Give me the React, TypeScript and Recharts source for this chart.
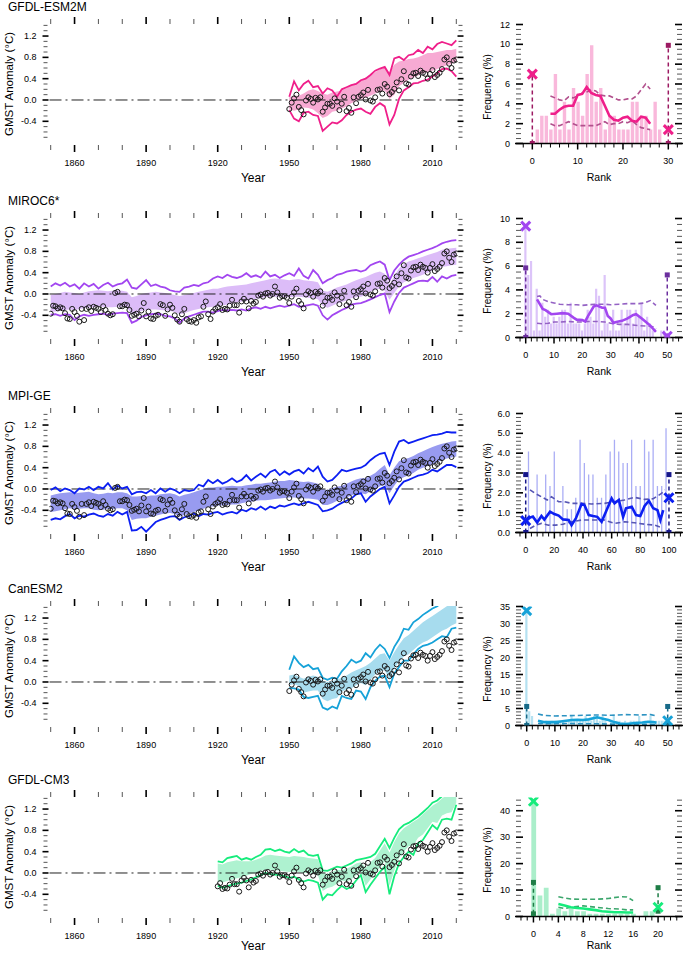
import React from "react";
import {
  ComposedChart,
  Area,
  Line,
  Scatter,
  Bar,
  XAxis,
  YAxis,
  ReferenceLine,
} from "recharts";

const FONT = '"Liberation Sans", Arial, Helvetica, sans-serif';

function seq(start: number, end: number, step: number) {
  const n = Math.round((end - start) / step);
  return Array.from({ length: n + 1 }, (_, i) => Math.round((start + i * step) * 1000) / 1000);
}

// ---- observations (GMST anomaly, annual) ----
const OBS_YEARS = seq(1850, 2020, 1);
const OBS_GMST = [
  -0.37, -0.22, -0.23, -0.27, -0.25, -0.27, -0.36, -0.46, -0.47, -0.28,
  -0.34, -0.41, -0.52, -0.28, -0.49, -0.28, -0.25, -0.32, -0.24, -0.26,
  -0.28, -0.34, -0.23, -0.30, -0.37, -0.40, -0.38, 0.02, 0.04, -0.23,
  -0.23, -0.20, -0.21, -0.30, -0.41, -0.39, -0.37, -0.42, -0.31, -0.17,
  -0.42, -0.33, -0.46, -0.47, -0.41, -0.39, -0.19, -0.21, -0.41, -0.29,
  -0.20, -0.26, -0.40, -0.48, -0.52, -0.38, -0.28, -0.47, -0.51, -0.52,
  -0.49, -0.54, -0.44, -0.42, -0.24, -0.14, -0.38, -0.47, -0.33, -0.28,
  -0.25, -0.19, -0.30, -0.28, -0.29, -0.22, -0.11, -0.21, -0.21, -0.35,
  -0.14, -0.09, -0.14, -0.27, -0.13, -0.18, -0.15, -0.03, -0.01, -0.05,
  0.01, 0.02, -0.03, 0.00, 0.14, 0.03, -0.07, -0.04, -0.04, -0.07,
  -0.17, -0.05, 0.03, 0.10, -0.13, -0.19, -0.27, -0.01, 0.05, 0.02,
  -0.05, 0.04, 0.01, 0.05, -0.22, -0.14, -0.07, -0.07, -0.11, 0.03,
  -0.03, -0.19, -0.07, 0.06, -0.21, -0.15, -0.24, 0.05, -0.06, 0.06,
  0.09, 0.14, 0.01, 0.19, -0.01, -0.03, 0.05, 0.19, 0.20, 0.12,
  0.30, 0.25, 0.11, 0.15, 0.21, 0.33, 0.18, 0.39, 0.54, 0.31,
  0.29, 0.44, 0.50, 0.51, 0.45, 0.55, 0.51, 0.49, 0.40, 0.49,
  0.56, 0.43, 0.47, 0.51, 0.58, 0.76, 0.80, 0.68, 0.60, 0.74,
  0.76,
];

// ---- GFDL-ESM2M ensemble (every 2 years, 1950-2020) ----
const esm2mYears = seq(1950, 2020, 2);
const esm2mHi = [
  0.06, 0.35, 0.18, 0.30, 0.36, 0.24, 0.26, 0.12, 0.22, 0.18,
  0.06, 0.20, 0.24, 0.28, 0.30, 0.37, 0.40, 0.47, 0.55, 0.59,
  0.62, 0.47, 0.78, 0.81, 0.75, 0.84, 0.86, 0.94, 0.88, 1.00,
  0.95, 1.05, 1.09, 1.06, 1.03, 1.12,
];
const esm2mLo = [
  -0.19, -0.35, -0.40, -0.24, -0.22, -0.28, -0.30, -0.58, -0.50, -0.42,
  -0.44, -0.38, -0.28, -0.22, -0.18, -0.16, -0.22, -0.26, -0.13, -0.06,
  -0.12, -0.46, -0.28, 0.02, 0.18, 0.24, 0.31, 0.32, 0.36, 0.38,
  0.44, 0.50, 0.58, 0.59, 0.54, 0.44,
];
const esm2mBandHi = [
  0.05, 0.08, 0.08, 0.12, 0.18, 0.20, 0.17, 0.12, 0.10, 0.14,
  0.16, 0.18, 0.22, 0.28, 0.32, 0.36, 0.42, 0.46, 0.52, 0.58,
  0.62, 0.52, 0.66, 0.72, 0.74, 0.77, 0.78, 0.80, 0.84, 0.88,
  0.88, 0.90, 0.92, 0.94, 0.94, 0.96,
];
const esm2mBandLo = [
  -0.18, -0.20, -0.18, -0.14, -0.15, -0.18, -0.25, -0.34, -0.30, -0.22,
  -0.20, -0.16, -0.12, -0.06, -0.02, 0.02, 0.04, 0.08, 0.12, 0.16,
  0.18, 0.02, 0.10, 0.26, 0.32, 0.38, 0.42, 0.46, 0.50, 0.52,
  0.55, 0.58, 0.62, 0.65, 0.68, 0.72,
];

// ---- MIROC6 (every 2 years, 1850-2020) ----
const longYears = seq(1850, 2020, 2);
const mirocHi = [
  0.14, 0.20, 0.16, 0.21, 0.14, 0.18, 0.10, 0.20, 0.14, 0.19,
  0.10, 0.17, 0.21, 0.14, 0.18, 0.20, 0.27, 0.12, 0.10, 0.18,
  0.26, 0.15, 0.18, 0.14, 0.12, 0.07, 0.05, 0.04, 0.12, 0.14,
  0.17, 0.15, 0.20, 0.22, 0.29, 0.33, 0.30, 0.36, 0.32, 0.30,
  0.33, 0.39, 0.32, 0.35, 0.31, 0.42, 0.33, 0.36, 0.30, 0.35,
  0.39, 0.34, 0.48, 0.34, 0.29, 0.45, 0.36, 0.20, 0.26, 0.30,
  0.36, 0.38, 0.42, 0.44, 0.45, 0.42, 0.45, 0.54, 0.58, 0.61,
  0.55, 0.26, 0.44, 0.55, 0.64, 0.70, 0.73, 0.76, 0.80, 0.83,
  0.86, 0.90, 0.95, 0.98, 1.00, 1.01,
];
const mirocLo = [
  -0.39, -0.38, -0.41, -0.38, -0.39, -0.49, -0.42, -0.39, -0.41, -0.39,
  -0.38, -0.37, -0.39, -0.37, -0.36, -0.35, -0.36, -0.54, -0.50, -0.43,
  -0.40, -0.38, -0.37, -0.38, -0.41, -0.42, -0.46, -0.54, -0.46, -0.42,
  -0.39, -0.36, -0.33, -0.33, -0.35, -0.32, -0.30, -0.31, -0.30, -0.31,
  -0.29, -0.31, -0.27, -0.25, -0.28, -0.24, -0.27, -0.24, -0.22, -0.24,
  -0.22, -0.19, -0.24, -0.23, -0.21, -0.19, -0.22, -0.40, -0.48, -0.40,
  -0.35, -0.30, -0.26, -0.20, -0.18, -0.17, -0.14, -0.10, -0.06, -0.02,
  0.01, -0.34, -0.14, 0.02, 0.12, 0.16, 0.20, 0.24, 0.25, 0.24,
  0.32, 0.23, 0.33, 0.29, 0.34, 0.36,
];
const mirocBandHi = [
  -0.02, 0.00, 0.02, 0.04, 0.03, 0.02, 0.00, 0.03, 0.05, 0.06,
  0.07, 0.06, 0.05, 0.06, 0.07, 0.06, 0.04, -0.06, -0.04, 0.00,
  0.02, 0.03, 0.04, 0.03, 0.02, 0.00, -0.02, -0.04, -0.02, 0.00,
  0.02, 0.04, 0.06, 0.08, 0.10, 0.10, 0.12, 0.14, 0.15, 0.16,
  0.17, 0.18, 0.20, 0.22, 0.24, 0.26, 0.28, 0.29, 0.28, 0.27,
  0.26, 0.27, 0.28, 0.26, 0.25, 0.24, 0.22, 0.06, 0.04, 0.08,
  0.12, 0.15, 0.18, 0.22, 0.26, 0.29, 0.32, 0.36, 0.40, 0.42,
  0.38, 0.17, 0.34, 0.48, 0.56, 0.61, 0.64, 0.67, 0.70, 0.73,
  0.76, 0.79, 0.83, 0.85, 0.86, 0.87,
];
const mirocBandLo = [
  -0.34, -0.33, -0.32, -0.30, -0.29, -0.30, -0.28, -0.27, -0.26, -0.25,
  -0.24, -0.24, -0.25, -0.25, -0.24, -0.24, -0.26, -0.38, -0.36, -0.32,
  -0.30, -0.29, -0.29, -0.30, -0.31, -0.32, -0.34, -0.38, -0.36, -0.33,
  -0.30, -0.28, -0.26, -0.25, -0.24, -0.23, -0.21, -0.20, -0.18, -0.16,
  -0.14, -0.13, -0.11, -0.09, -0.08, -0.06, -0.05, -0.05, -0.05, -0.06,
  -0.06, -0.05, -0.05, -0.06, -0.07, -0.08, -0.10, -0.22, -0.26, -0.22,
  -0.18, -0.15, -0.12, -0.08, -0.06, -0.05, -0.02, 0.04, 0.08, 0.10,
  0.06, -0.11, 0.02, 0.14, 0.22, 0.26, 0.30, 0.33, 0.36, 0.40,
  0.44, 0.47, 0.51, 0.52, 0.54, 0.55,
];

// ---- MPI-GE (every 2 years, 1850-2020) ----
const mpiHi = [
  -0.02, 0.03, -0.04, 0.01, -0.02, -0.08, 0.01, -0.01, 0.04, -0.02,
  0.04, 0.01, 0.11, -0.01, 0.06, 0.01, 0.04, -0.10, -0.06, -0.05,
  -0.08, -0.02, -0.08, 0.01, -0.05, 0.01, -0.02, -0.08, -0.02, -0.04,
  -0.02, 0.08, 0.05, 0.17, 0.11, 0.17, 0.10, 0.14, 0.20, 0.13,
  0.17, 0.26, 0.16, 0.23, 0.29, 0.22, 0.32, 0.36, 0.26, 0.33,
  0.27, 0.33, 0.36, 0.29, 0.39, 0.33, 0.42, 0.23, 0.14, 0.17,
  0.26, 0.36, 0.33, 0.36, 0.38, 0.40, 0.45, 0.54, 0.61, 0.66,
  0.68, 0.45, 0.70, 0.89, 0.92, 0.86, 0.89, 0.92, 0.95, 0.98,
  1.01, 1.02, 1.04, 1.07, 1.06, 1.06,
];
const mpiLo = [
  -0.58, -0.55, -0.57, -0.51, -0.47, -0.55, -0.50, -0.52, -0.48, -0.46,
  -0.50, -0.52, -0.47, -0.50, -0.43, -0.48, -0.43, -0.78, -0.77, -0.71,
  -0.80, -0.71, -0.62, -0.58, -0.55, -0.52, -0.51, -0.58, -0.53, -0.51,
  -0.46, -0.51, -0.47, -0.48, -0.45, -0.43, -0.48, -0.45, -0.43, -0.46,
  -0.39, -0.42, -0.36, -0.39, -0.33, -0.39, -0.33, -0.36, -0.31, -0.33,
  -0.30, -0.27, -0.30, -0.27, -0.24, -0.27, -0.30, -0.42, -0.40, -0.37,
  -0.31, -0.26, -0.22, -0.18, -0.10, -0.08, -0.24, -0.14, -0.07, 0.00,
  0.04, -0.27, -0.12, 0.04, 0.14, 0.17, 0.21, 0.25, 0.27, 0.30,
  0.36, 0.33, 0.39, 0.45, 0.45, 0.41,
];
const mpiBandHi = [
  -0.12, -0.10, -0.08, -0.07, -0.06, -0.08, -0.07, -0.06, -0.05, -0.08,
  -0.10, -0.09, -0.07, -0.08, -0.06, -0.06, -0.08, -0.14, -0.14, -0.13,
  -0.14, -0.12, -0.12, -0.10, -0.09, -0.08, -0.10, -0.14, -0.11, -0.09,
  -0.06, -0.03, 0.00, 0.03, 0.03, 0.04, 0.04, 0.05, 0.06, 0.05,
  0.05, 0.07, 0.08, 0.10, 0.10, 0.11, 0.12, 0.14, 0.15, 0.15,
  0.17, 0.16, 0.14, 0.13, 0.14, 0.12, 0.10, 0.00, -0.02, 0.02,
  0.04, 0.06, 0.10, 0.14, 0.18, 0.20, 0.20, 0.25, 0.30, 0.38,
  0.45, 0.26, 0.40, 0.52, 0.56, 0.58, 0.62, 0.67, 0.71, 0.75,
  0.79, 0.82, 0.85, 0.87, 0.89, 0.90,
];
const mpiBandLo = [
  -0.43, -0.42, -0.40, -0.38, -0.36, -0.38, -0.37, -0.36, -0.36, -0.39,
  -0.40, -0.39, -0.37, -0.38, -0.36, -0.36, -0.40, -0.58, -0.56, -0.55,
  -0.55, -0.52, -0.50, -0.48, -0.46, -0.45, -0.47, -0.52, -0.49, -0.46,
  -0.43, -0.40, -0.37, -0.34, -0.33, -0.31, -0.31, -0.30, -0.29, -0.29,
  -0.27, -0.25, -0.24, -0.22, -0.21, -0.21, -0.20, -0.19, -0.18, -0.17,
  -0.16, -0.16, -0.17, -0.18, -0.18, -0.19, -0.20, -0.30, -0.30, -0.27,
  -0.22, -0.20, -0.16, -0.12, -0.09, -0.08, -0.10, -0.04, 0.00, 0.05,
  0.08, -0.08, 0.06, 0.18, 0.22, 0.26, 0.30, 0.36, 0.40, 0.43,
  0.46, 0.50, 0.54, 0.57, 0.59, 0.61,
];

// ---- CanESM2 (every 2 years, 1950-2020) ----
const canYears = seq(1950, 2020, 2);
const canHi = [
  0.23, 0.48, 0.36, 0.28, 0.32, 0.24, 0.26, 0.08, 0.04, 0.08,
  0.06, 0.20, 0.30, 0.42, 0.36, 0.40, 0.54, 0.46, 0.60, 0.70,
  0.62, 0.45, 0.66, 0.80, 1.00, 0.98, 1.12, 1.18, 1.26, 1.32,
  1.38, 1.42, 1.50, 1.56, 1.60, 1.65,
];
const canLo = [
  -0.11, -0.12, -0.14, -0.28, -0.30, -0.28, -0.26, -0.48, -0.52, -0.46,
  -0.50, -0.26, -0.30, -0.32, -0.16, -0.18, -0.32, -0.10, 0.02, 0.10,
  0.12, -0.10, 0.16, 0.28, 0.40, 0.40, 0.52, 0.62, 0.68, 0.70,
  0.74, 0.80, 0.86, 0.84, 1.00, 1.02,
];
const canBandHi = [
  0.12, 0.14, 0.10, 0.06, 0.10, 0.12, 0.10, 0.02, 0.00, 0.02,
  0.04, 0.08, 0.12, 0.18, 0.22, 0.26, 0.30, 0.36, 0.44, 0.52,
  0.54, 0.40, 0.56, 0.70, 0.82, 0.88, 0.96, 1.04, 1.12, 1.18,
  1.24, 1.30, 1.36, 1.42, 1.46, 1.50,
];
const canBandLo = [
  -0.06, -0.04, -0.08, -0.20, -0.18, -0.16, -0.16, -0.32, -0.36, -0.32,
  -0.30, -0.18, -0.14, -0.12, -0.06, -0.02, -0.06, 0.04, 0.14, 0.20,
  0.22, 0.04, 0.26, 0.38, 0.48, 0.52, 0.60, 0.68, 0.74, 0.78,
  0.84, 0.90, 0.96, 1.00, 1.06, 1.10,
];

// ---- GFDL-CM3 (every 2 years, 1920-2020) ----
const cm3Years = seq(1920, 2020, 2);
const cm3Hi = [
  0.22, 0.20, 0.28, 0.30, 0.32, 0.25, 0.28, 0.25, 0.30, 0.34,
  0.44, 0.45, 0.41, 0.44, 0.40, 0.38, 0.45, 0.39, 0.42, 0.34,
  0.32, 0.34, 0.05, 0.04, 0.08, 0.12, 0.10, 0.14, 0.18, 0.24,
  0.26, 0.28, 0.30, 0.36, 0.50, 0.64, 0.47, 0.66, 0.82, 0.90,
  0.94, 1.00, 1.06, 1.14, 1.22, 1.32, 1.36, 1.44, 1.48, 1.52,
  1.55,
];
const cm3Lo = [
  -0.24, -0.28, -0.25, -0.22, -0.20, -0.18, -0.15, -0.12, -0.08, -0.04,
  0.00, -0.02, -0.03, -0.04, -0.06, -0.09, -0.07, -0.12, -0.16, -0.13,
  -0.15, -0.18, -0.50, -0.40, -0.42, -0.32, -0.24, -0.30, -0.26, -0.14,
  -0.04, -0.36, -0.22, -0.10, 0.02, 0.12, -0.40, -0.06, 0.18, 0.30,
  0.40, 0.34, 0.56, 0.62, 0.76, 0.90, 0.82, 1.00, 1.02, 1.00,
  1.28,
];
const cm3BandHi = [
  0.18, 0.16, 0.20, 0.22, 0.24, 0.22, 0.22, 0.22, 0.25, 0.28,
  0.33, 0.34, 0.33, 0.32, 0.31, 0.30, 0.32, 0.31, 0.30, 0.28,
  0.27, 0.26, 0.00, -0.02, 0.02, 0.06, 0.05, 0.08, 0.12, 0.18,
  0.20, 0.10, 0.20, 0.28, 0.42, 0.56, 0.38, 0.58, 0.74, 0.84,
  0.90, 0.96, 1.02, 1.10, 1.18, 1.26, 1.32, 1.40, 1.46, 1.50,
  1.52,
];
const cm3BandLo = [
  -0.16, -0.18, -0.15, -0.12, -0.10, -0.08, -0.05, -0.02, 0.00, 0.04,
  0.06, 0.06, 0.05, 0.04, 0.03, 0.02, 0.03, 0.02, 0.00, 0.00,
  -0.02, -0.04, -0.34, -0.28, -0.26, -0.20, -0.14, -0.16, -0.12, -0.04,
  0.04, -0.24, -0.12, 0.00, 0.10, 0.22, -0.24, 0.04, 0.28, 0.40,
  0.50, 0.52, 0.66, 0.72, 0.84, 0.96, 0.94, 1.08, 1.12, 1.14,
  1.32,
];

// ---- rank histograms ----
const esm2mBarRanks = seq(1, 28, 1);
const esm2mBarFreq = [
  1.4, 2.8, 2.8, 1.4, 7.0, 1.4, 4.2, 1.4, 5.6, 4.2,
  2.8, 7.0, 9.9, 4.2, 5.6, 1.4, 2.8, 2.8, 1.4, 1.4,
  1.4, 4.2, 4.2, 2.8, 2.8, 1.4, 4.2, 1.4,
];
const esm2mLineRanks = seq(4, 26, 1);
const esm2mMid = [3.0, 3.0, 3.4, 3.7, 3.8, 3.8, 4.9, 5.0, 5.7, 5.1, 4.9, 4.8, 3.8, 2.8, 2.4, 2.3, 2.6, 2.7, 2.3, 2.2, 2.7, 2.6, 2.0];
const esm2mUp = [4.8, 4.6, 4.4, 4.3, 4.7, 4.6, 4.8, 5.1, 5.2, 5.4, 5.3, 4.9, 4.8, 4.8, 4.6, 4.4, 4.4, 4.5, 4.5, 4.8, 5.4, 6.0, 5.5];
const esm2mDn = [2.0, 1.8, 1.8, 2.0, 2.2, 2.0, 1.8, 1.8, 1.8, 1.8, 1.8, 2.0, 2.2, 1.9, 2.0, 2.0, 2.2, 2.1, 2.3, 1.9, 1.6, 1.5, 1.4];

const mirocBarRanks = seq(0, 50, 1);
const mirocBarFreq = [
  9.36, 5.26, 6.43, 0.58, 4.09, 0.58, 2.92, 1.75, 2.34, 1.17,
  1.75, 1.17, 1.75, 2.34, 2.34, 1.17, 2.92, 1.17, 1.17, 1.17,
  0.58, 1.17, 2.34, 1.75, 1.17, 4.09, 3.51, 0.58, 5.26, 1.17,
  0.58, 2.34, 0.58, 0.58, 2.34, 1.17, 2.34, 2.34, 1.17, 2.34,
  1.75, 2.92, 0.58, 1.75, 1.17, 0.58, 0, 0, 0.58, 0.58,
  0,
];
const mirocMidRanks = [4, 6, 7, 9, 11, 13, 15, 17, 18, 20, 21, 22, 24, 25, 27, 28, 29, 30, 31, 32, 34, 36, 38, 39, 41, 43, 44, 46];
const mirocMid = [3.2, 2.4, 2.3, 1.96, 2.0, 2.05, 2.0, 1.65, 1.5, 1.46, 1.35, 1.8, 2.6, 2.7, 2.5, 2.5, 1.8, 1.6, 1.23, 1.3, 1.4, 1.6, 1.9, 1.96, 1.6, 1.2, 1.0, 0.48];
const mirocUpRanks = [4, 5, 6, 8, 10, 12, 15, 18, 20, 22, 25, 28, 30, 33, 36, 40, 42, 44, 46];
const mirocUp = [3.45, 3.5, 3.2, 3.0, 2.9, 2.8, 2.75, 2.75, 2.7, 2.75, 2.8, 2.8, 2.75, 2.8, 2.85, 2.85, 2.9, 3.1, 2.7];
const mirocDnRanks = [4, 6, 8, 10, 12, 15, 18, 20, 22, 25, 28, 30, 33, 36, 40, 43, 45, 46];
const mirocDn = [1.2, 1.15, 1.2, 1.3, 1.3, 1.35, 1.3, 1.3, 1.35, 1.35, 1.3, 1.2, 1.1, 1.1, 1.0, 0.95, 0.9, 0.7];

const mpiBarRanks = seq(2, 98, 3);
const mpiBarFreq = [
  4.09, 0, 2.92, 0, 2.92, 2.34, 4.09, 0, 2.34, 1.17,
  1.17, 1.75, 4.68, 3.51, 2.92, 2.92, 1.75, 1.75, 2.92, 4.09,
  4.68, 4.09, 3.51, 3.51, 4.68, 2.34, 2.34, 4.68, 4.09, 4.68,
  2.34, 2.34, 5.26,
];
const mpiMidRanks = [1, 3, 5, 8, 11, 13, 17, 20, 23, 26, 30, 32, 35, 39, 41, 44, 47, 50, 53, 56, 60, 62, 65, 68, 70, 74, 77, 80, 83, 86, 89, 92, 94, 96];
const mpiMid = [0.65, 0.75, 0.8, 0.5, 0.83, 0.65, 1.05, 0.93, 0.85, 0.66, 0.63, 0.37, 0.71, 1.44, 1.39, 0.88, 0.83, 0.79, 0.54, 1.05, 1.72, 1.47, 1.64, 0.79, 1.22, 1.3, 0.88, 0.83, 1.34, 1.6, 1.22, 1.13, 0.63, 1.13];
const mpiUpRanks = [3, 6, 11, 15, 18, 23, 27, 32, 39, 46, 55, 62, 69, 76, 83, 89, 95, 97];
const mpiUp = [2.15, 2.0, 1.8, 1.64, 1.8, 1.55, 1.55, 1.47, 1.47, 1.44, 1.47, 1.55, 1.64, 1.77, 1.67, 1.7, 1.98, 2.15];
const mpiDnRanks = [3, 7, 11, 16, 21, 26, 32, 39, 48, 55, 62, 69, 76, 83, 90, 95];
const mpiDn = [0.2, 0.37, 0.46, 0.37, 0.37, 0.42, 0.54, 0.63, 0.63, 0.63, 0.46, 0.54, 0.49, 0.42, 0.37, 0.25];

const canBarRanks = seq(0, 50, 1);
const canBarFreq = [
  33.8, 4.2, 2.8, 0, 0, 1.4, 0, 1.4, 0, 1.4,
  1.4, 0, 1.4, 1.4, 0, 1.4, 2.8, 1.4, 1.4, 1.4,
  1.4, 2.8, 1.4, 1.4, 2.8, 2.8, 1.4, 2.8, 1.4, 0,
  1.4, 2.8, 1.4, 1.4, 0, 1.4, 0, 1.4, 1.4, 0,
  2.8, 0, 1.4, 0, 2.8, 0, 1.4, 1.4, 1.4, 1.4,
  0,
];
const canMidRanks = [4, 6, 8, 10, 12, 14, 16, 18, 20, 22, 24, 25, 27, 29, 31, 33, 35, 37, 39, 41, 43, 45, 46];
const canMid = [1.4, 1.0, 1.0, 1.0, 1.2, 1.4, 1.6, 1.7, 1.6, 1.8, 2.2, 2.4, 2.0, 1.6, 1.0, 0.6, 0.4, 0.6, 0.8, 0.9, 1.1, 1.0, 0.8];
const canUpRanks = [4, 6, 10, 15, 20, 25, 30, 35, 40, 44, 46];
const canUp = [3.4, 3.0, 2.8, 2.9, 3.0, 3.1, 3.0, 3.2, 3.1, 3.2, 2.8];
const canDnRanks = [4, 10, 15, 20, 25, 30, 35, 40, 46];
const canDn = [0.6, 0.5, 0.6, 0.5, 0.5, 0.4, 0.4, 0.4, 0.3];

const cm3BarRanks = seq(0, 20, 1);
const cm3BarFreq = [
  43.6, 7.9, 10.9, 1.0, 3.0, 2.0, 3.0, 2.0, 2.0, 1.0,
  1.0, 1.0, 1.0, 1.0, 1.0, 1.0, 1.0, 0, 2.0, 2.0,
  0,
];
const cm3LineRanks = seq(4, 16, 1);
const cm3Mid = [4.7, 4.2, 3.5, 3.2, 3.0, 2.7, 2.4, 2.0, 1.8, 1.6, 1.6, 1.5, 1.5];
const cm3UpRanks = [4, 5, 6, 8, 10, 12, 14, 15, 16];
const cm3Up = [7.5, 7.0, 6.6, 6.5, 6.5, 6.8, 7.5, 7.4, 6.0];
const cm3Dn = [3.5, 3.0, 3.5, 4.0, 3.5, 3.0, 2.8, 2.5, 2.5];

// ---- axes ----
const YEAR_TICKS = seq(1850, 2020, 10);
const YEAR_MAJOR = [1860, 1890, 1920, 1950, 1980, 2010];
const ANOM_TICKS = seq(-0.7, 1.4, 0.1);
const ANOM_MAJOR = [-0.4, 0, 0.4, 0.8, 1.2];

// axes take 1px each (a zero-size axis is not drawn), so margins are 1px short
const TS_MARGIN = { top: 24, right: 12.5, bottom: 45, left: 48.5 };
const TS_FRAME_W = 408;
const TS_FRAME_H = 120;
const RK_MARGIN = { top: 24.5, right: 2, bottom: 45.5, left: 44 };
const RK_FRAME_W = 168;

const ROW_TOPS = [0, 194, 389, 582, 773];

const isIn = (list: number[], v: number) => list.some((m) => Math.abs(m - v) < 1e-6);

interface Rank {
  n: number;
  xDomain: [number, number];
  xTicks: number[];
  xMajor: number[];
  yMax: number;
  yTicks: number[];
  yMajor: number[];
  yFmt: (v: number) => string;
  barW: number;
  bars: { r: number; f: number }[];
  mid: { r: number; f: number }[];
  up: { r: number; f: number }[];
  dn: { r: number; f: number }[];
  end0: [number, number];
  endN: [number, number];
  cross: [number, number];
}

interface Model {
  name: string;
  color: string;
  band: string;
  bar: string;
  dash: string;
  square: string;
  years: number[];
  hi: number[];
  lo: number[];
  bandHi: number[];
  bandLo: number[];
  obsFrom: number;
  rank: Rank;
}

const pts = (rs: number[], fs: number[]) => rs.map((r, i) => ({ r, f: fs[i] }));
const intFmt = (v: number) => String(v);

const MODELS: Model[] = [
  {
    name: "GFDL-ESM2M",
    color: "#ef1f8a",
    band: "#f7aad3",
    bar: "#f9b8db",
    dash: "#b2508d",
    square: "#9c1a62",
    years: esm2mYears,
    hi: esm2mHi,
    lo: esm2mLo,
    bandHi: esm2mBandHi,
    bandLo: esm2mBandLo,
    obsFrom: 1950,
    rank: {
      n: 30,
      xDomain: [-3.82, 33.24],
      xTicks: seq(-2, 32, 2),
      xMajor: [0, 10, 20, 30],
      yMax: 12,
      yTicks: seq(0, 12, 0.5),
      yMajor: [0, 2, 4, 6, 8, 10, 12],
      yFmt: intFmt,
      barW: 3.4,
      bars: pts(esm2mBarRanks, esm2mBarFreq),
      mid: pts(esm2mLineRanks, esm2mMid),
      up: pts(esm2mLineRanks, esm2mUp),
      dn: pts(esm2mLineRanks, esm2mDn),
      end0: [0, 7.0],
      endN: [0, 9.9],
      cross: [7.0, 1.4],
    },
  },
  {
    name: "MIROC6*",
    color: "#a246f0",
    band: "#dcbcf8",
    bar: "#dcc4f9",
    dash: "#9462c4",
    square: "#6b2e9e",
    years: longYears,
    hi: mirocHi,
    lo: mirocLo,
    bandHi: mirocBandHi,
    bandLo: mirocBandLo,
    obsFrom: 1850,
    rank: {
      n: 50,
      xDomain: [-3.78, 55.56],
      xTicks: seq(-2, 54, 2),
      xMajor: [0, 10, 20, 30, 40, 50],
      yMax: 10,
      yTicks: seq(0, 10, 0.5),
      yMajor: [0, 2, 4, 6, 8, 10],
      yFmt: intFmt,
      barW: 2.2,
      bars: pts(mirocBarRanks, mirocBarFreq),
      mid: pts(mirocMidRanks, mirocMid),
      up: pts(mirocUpRanks, mirocUp),
      dn: pts(mirocDnRanks, mirocDn),
      end0: [0, 5.85],
      endN: [0, 5.26],
      cross: [9.36, 0.1],
    },
  },
  {
    name: "MPI-GE",
    color: "#0c1ff2",
    band: "#989bf0",
    bar: "#aaadf5",
    dash: "#5656b4",
    square: "#16168a",
    years: longYears,
    hi: mpiHi,
    lo: mpiLo,
    bandHi: mpiBandHi,
    bandLo: mpiBandLo,
    obsFrom: 1850,
    rank: {
      n: 100,
      xDomain: [-7.47, 109.8],
      xTicks: seq(-4, 108, 4),
      xMajor: [0, 20, 40, 60, 80, 100],
      yMax: 6,
      yTicks: seq(0, 6, 0.2),
      yMajor: [0, 1, 2, 3, 4, 5, 6],
      yFmt: (v: number) => v.toFixed(1),
      barW: 2,
      bars: pts(mpiBarRanks, mpiBarFreq),
      mid: pts(mpiMidRanks, mpiMid),
      up: pts(mpiUpRanks, mpiUp),
      dn: pts(mpiDnRanks, mpiDn),
      end0: [0, 2.92],
      endN: [0, 2.92],
      cross: [0.6, 1.75],
    },
  },
  {
    name: "CanESM2",
    color: "#16a2d8",
    band: "#a7dcee",
    bar: "#b4e1f1",
    dash: "#2d93c2",
    square: "#176a88",
    years: canYears,
    hi: canHi,
    lo: canLo,
    bandHi: canBandHi,
    bandLo: canBandLo,
    obsFrom: 1950,
    rank: {
      n: 50,
      xDomain: [-4.15, 55.43],
      xTicks: seq(-2, 54, 2),
      xMajor: [0, 10, 20, 30, 40, 50],
      yMax: 35,
      yTicks: seq(0, 35, 1),
      yMajor: [0, 5, 10, 15, 20, 25, 30, 35],
      yFmt: intFmt,
      barW: 2.2,
      bars: pts(canBarRanks, canBarFreq),
      mid: pts(canMidRanks, canMid),
      up: pts(canUpRanks, canUp),
      dn: pts(canDnRanks, canDn),
      end0: [0, 5.6],
      endN: [0, 5.6],
      cross: [33.8, 1.4],
    },
  },
  {
    name: "GFDL-CM3",
    color: "#16ec7c",
    band: "#aef2d0",
    bar: "#aaeeca",
    dash: "#3ba66c",
    square: "#1e7d46",
    years: cm3Years,
    hi: cm3Hi,
    lo: cm3Lo,
    bandHi: cm3BandHi,
    bandLo: cm3BandLo,
    obsFrom: 1920,
    rank: {
      n: 20,
      xDomain: [-2.96, 24.0],
      xTicks: seq(-2, 23, 1),
      xMajor: [0, 4, 8, 12, 16, 20],
      yMax: 45,
      yTicks: seq(0, 44, 2),
      yMajor: [0, 10, 20, 30, 40],
      yFmt: intFmt,
      barW: 4.8,
      bars: pts(cm3BarRanks, cm3BarFreq),
      mid: pts(cm3LineRanks, cm3Mid),
      up: pts(cm3UpRanks, cm3Up),
      dn: pts(cm3UpRanks, cm3Dn),
      end0: [1.0, 12.9],
      endN: [2.0, 10.9],
      cross: [43.6, 3.5],
    },
  },
];

// ---- tick renderers ----
const yearTick = (props: any) => {
  const { x, y, payload } = props;
  const v = payload.value;
  const major = isIn(YEAR_MAJOR, v);
  const len = major ? 7 : 5;
  const stroke = major ? "#000" : "#555";
  const w = major ? 1.6 : 1;
  const top = y - TS_FRAME_H;
  return (
    <g>
      <line x1={x} x2={x} y1={y + 1} y2={y + 1 + len} stroke={stroke} strokeWidth={w} />
      <line x1={x} x2={x} y1={top} y2={top - len} stroke={stroke} strokeWidth={w} />
      {major && (
        <text x={x} y={y + 19} textAnchor="middle" dominantBaseline="central" fontSize={9} fontFamily={FONT} fill="#000">
          {v}
        </text>
      )}
    </g>
  );
};

const anomTick = (props: any) => {
  const { x, y, payload } = props;
  const v = payload.value;
  const major = isIn(ANOM_MAJOR, v);
  const stroke = major ? "#000" : "#555";
  const w = major ? 1.6 : 1;
  const right = x + TS_FRAME_W;
  return (
    <g>
      <line x1={major ? x - 7 : x - 6} x2={major ? x - 1 : x - 2} y1={y} y2={y} stroke={stroke} strokeWidth={w} />
      <line x1={major ? right : right + 1} x2={major ? right + 6 : right + 5} y1={y} y2={y} stroke={stroke} strokeWidth={w} />
      {major && (
        <text x={x - 13} y={y} textAnchor="end" dominantBaseline="central" fontSize={9} fontFamily={FONT} fill="#000">
          {Math.abs(v) < 1e-6 ? "0.0" : v.toFixed(1)}
        </text>
      )}
    </g>
  );
};

const obsDot = (props: any) => {
  const { cx, cy } = props;
  if (cx == null || cy == null) return <g />;
  return <circle cx={cx} cy={cy} r={2.5} fill="none" stroke="#1a1a1a" strokeWidth={1} />;
};

function TimePanel({ m }: { m: Model }) {
  const data = m.years.map((year, i) => ({
    year,
    hi: m.hi[i],
    lo: m.lo[i],
    band: [m.bandLo[i], m.bandHi[i]],
  }));
  const obs = OBS_YEARS.map((year, i) => ({ year, v: OBS_GMST[i] })).filter((d) => d.year >= m.obsFrom);
  return (
    <ComposedChart width={470} height={190} data={data} margin={TS_MARGIN}>
      <XAxis
        dataKey="year"
        type="number"
        domain={[1849.5, 2020.5]}
        allowDataOverflow
        ticks={YEAR_TICKS}
        interval={0}
        height={1}
        tickSize={0}
        tickMargin={0}
        axisLine={false}
        tickLine={false}
        tick={yearTick}
      />
      <YAxis
        type="number"
        domain={[-0.826, 1.426]}
        allowDataOverflow
        ticks={ANOM_TICKS}
        interval={0}
        width={1}
        tickSize={0}
        tickMargin={0}
        axisLine={false}
        tickLine={false}
        tick={anomTick}
      />
      <Area type="linear" dataKey="band" stroke="none" fill={m.band} fillOpacity={1} isAnimationActive={false} />
      <ReferenceLine y={0} stroke="#222" strokeWidth={1} strokeDasharray="12 4 2 4" />
      <Line type="linear" dataKey="hi" stroke={m.color} strokeWidth={1.8} dot={false} isAnimationActive={false} />
      <Line type="linear" dataKey="lo" stroke={m.color} strokeWidth={1.8} dot={false} isAnimationActive={false} />
      <Scatter data={obs} dataKey="v" shape={obsDot} isAnimationActive={false} />
    </ComposedChart>
  );
}

function RankPanel({ m }: { m: Model }) {
  const rk = m.rank;
  const xTick = (props: any) => {
    const { x, y, payload } = props;
    const v = payload.value;
    const major = isIn(rk.xMajor, v);
    return (
      <g>
        <line x1={x} x2={x} y1={y} y2={y + (major ? 6 : 4)} stroke="#000" strokeWidth={major ? 1.5 : 1} />
        {major && (
          <text x={x} y={y + 17} textAnchor="middle" dominantBaseline="central" fontSize={9} fontFamily={FONT} fill="#000">
            {v}
          </text>
        )}
      </g>
    );
  };
  const yTick = (props: any) => {
    const { x, y, payload } = props;
    const v = payload.value;
    const major = isIn(rk.yMajor, v);
    const len = major ? 7 : 5;
    const stroke = major ? "#000" : "#555";
    const w = major ? 1.6 : 1;
    const right = x + RK_FRAME_W;
    return (
      <g>
        <line x1={x + 1} x2={x + 1 + len} y1={y} y2={y} stroke={stroke} strokeWidth={w} />
        <line x1={right - 1} x2={right - 1 - len} y1={y} y2={y} stroke={stroke} strokeWidth={w} />
        {major && (
          <text x={x - 5} y={y} textAnchor="end" dominantBaseline="central" fontSize={9} fontFamily={FONT} fill="#000">
            {rk.yFmt(v)}
          </text>
        )}
      </g>
    );
  };
  const square = (props: any) => {
    const { cx, cy } = props;
    if (cx == null || cy == null) return <g />;
    return <rect x={cx - 2.5} y={cy - 2.5} width={5} height={5} fill={m.square} />;
  };
  const xmark = (props: any) => {
    const { cx, cy } = props;
    if (cx == null || cy == null) return <g />;
    const s = 4.5;
    return (
      <g stroke={m.color} strokeWidth={3} strokeLinecap="butt">
        <line x1={cx - s} y1={cy - s} x2={cx + s} y2={cy + s} />
        <line x1={cx - s} y1={cy + s} x2={cx + s} y2={cy - s} />
      </g>
    );
  };
  const end0 = [{ r: 0, f: rk.end0[0] }, { r: 0, f: rk.end0[1] }];
  const endN = [{ r: rk.n, f: rk.endN[0] }, { r: rk.n, f: rk.endN[1] }];
  const crosses = [{ r: 0, f: rk.cross[0] }, { r: rk.n, f: rk.cross[1] }];
  const endLine = { stroke: m.square, strokeWidth: 1.5, strokeDasharray: "4 3" };
  return (
    <ComposedChart width={215} height={190} data={rk.bars} margin={RK_MARGIN}>
      <XAxis
        dataKey="r"
        type="number"
        domain={rk.xDomain}
        allowDataOverflow
        ticks={rk.xTicks}
        interval={0}
        height={1}
        tickSize={0}
        tickMargin={0}
        axisLine={{ stroke: "#000", strokeWidth: 1.5 }}
        tickLine={false}
        tick={xTick}
      />
      <YAxis
        type="number"
        domain={[0, rk.yMax]}
        allowDataOverflow
        ticks={rk.yTicks}
        interval={0}
        width={1}
        tickSize={0}
        tickMargin={0}
        axisLine={false}
        tickLine={false}
        tick={yTick}
      />
      <Bar dataKey="f" fill={m.bar} barSize={rk.barW} isAnimationActive={false} />
      <Line data={rk.up} dataKey="f" type="linear" stroke={m.dash} strokeWidth={1.6} strokeDasharray="5 3" dot={false} isAnimationActive={false} />
      <Line data={rk.dn} dataKey="f" type="linear" stroke={m.dash} strokeWidth={1.6} strokeDasharray="5 3" dot={false} isAnimationActive={false} />
      <Line data={rk.mid} dataKey="f" type="linear" stroke={m.color} strokeWidth={2.6} dot={false} isAnimationActive={false} />
      <Scatter data={end0} dataKey="f" fill={m.square} line={endLine} shape={square} isAnimationActive={false} />
      <Scatter data={endN} dataKey="f" fill={m.square} line={endLine} shape={square} isAnimationActive={false} />
      <Scatter data={crosses} dataKey="f" fill={m.color} shape={xmark} isAnimationActive={false} />
    </ComposedChart>
  );
}

const centered = (x: number, y: number, size: number, rotate = false): React.CSSProperties => ({
  position: "absolute",
  left: x,
  top: y,
  fontSize: size,
  lineHeight: 1,
  whiteSpace: "nowrap",
  transform: rotate ? "translate(-50%, -50%) rotate(-90deg)" : "translate(-50%, -50%)",
});

export default function App() {
  return (
    <div
      style={{
        position: "absolute",
        left: 0,
        top: 0,
        width: 685,
        height: 954,
        background: "#fff",
        fontFamily: FONT,
        color: "#000",
        overflow: "hidden",
      }}
    >
      {MODELS.map((m, i) => {
        const last = i === MODELS.length - 1;
        return (
          <div key={m.name} style={{ position: "absolute", left: 0, top: ROW_TOPS[i], width: 685, height: 190 }}>
            <div style={{ position: "absolute", left: 0, top: 0 }}>
              <TimePanel m={m} />
            </div>
            <div style={{ position: "absolute", left: 470, top: 0 }}>
              <RankPanel m={m} />
            </div>
            <div style={{ position: "absolute", left: 8, top: 0, fontSize: 12, lineHeight: "14px" }}>{m.name}</div>
            <div style={centered(253, last ? 173 : 178, 12)}>Year</div>
            <div style={centered(10, 84, 11.5, true)}>GMST Anomaly (°C)</div>
            <div style={centered(599, last ? 172 : 177, 10.5)}>Rank</div>
            <div style={centered(488, 87, 10, true)}>Frequency (%)</div>
          </div>
        );
      })}
    </div>
  );
}
